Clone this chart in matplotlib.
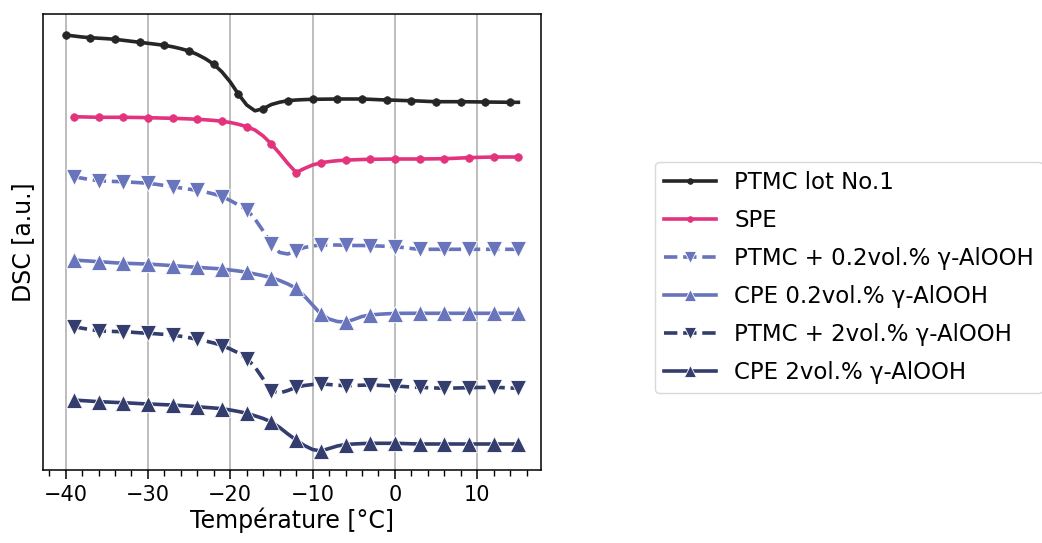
import numpy as np
import matplotlib
matplotlib.use("Agg")
import matplotlib.pyplot as plt
from matplotlib.ticker import MultipleLocator

# Temperature axes (°C)
temp_a = list(range(-40, 16))   # PTMC lot No.1
temp_b = list(range(-39, 16))   # other series

ptmc_lot1 = [4.35, 4.34, 4.33, 4.323, 4.318, 4.313, 4.307, 4.297, 4.287, 4.277,
             4.267, 4.257, 4.247, 4.232, 4.213, 4.19, 4.155, 4.112, 4.057, 3.98,
             3.88, 3.757, 3.65, 3.592, 3.613, 3.655, 3.678, 3.693, 3.70, 3.704,
             3.707, 3.708, 3.709, 3.71, 3.71, 3.71, 3.71, 3.707, 3.703, 3.70,
             3.698, 3.695, 3.693, 3.69, 3.686, 3.683, 3.683, 3.683, 3.683, 3.682,
             3.681, 3.68, 3.679, 3.678, 3.677, 3.677]

spe = [3.533, 3.531, 3.529, 3.527, 3.527, 3.527, 3.527, 3.526, 3.525, 3.523,
       3.521, 3.519, 3.517, 3.514, 3.511, 3.507, 3.502, 3.496, 3.487, 3.475,
       3.457, 3.433, 3.40, 3.34, 3.26, 3.165, 3.065, 2.975, 3.015, 3.05,
       3.072, 3.084, 3.093, 3.098, 3.102, 3.105, 3.107, 3.108, 3.109, 3.11,
       3.11, 3.11, 3.11, 3.111, 3.112, 3.113, 3.116, 3.12, 3.123, 3.126,
       3.128, 3.13, 3.13, 3.13, 3.13]

ptmc_02 = [2.933, 2.918, 2.904, 2.893, 2.888, 2.885, 2.883, 2.878, 2.873, 2.867,
           2.857, 2.845, 2.833, 2.82, 2.808, 2.796, 2.78, 2.76, 2.735, 2.695,
           2.65, 2.605, 2.51, 2.39, 2.26, 2.175, 2.16, 2.195, 2.225, 2.24,
           2.25, 2.25, 2.25, 2.247, 2.245, 2.245, 2.243, 2.24, 2.237, 2.233,
           2.225, 2.215, 2.207, 2.207, 2.207, 2.207, 2.207, 2.207, 2.207, 2.207,
           2.207, 2.207, 2.207, 2.207, 2.207]

cpe_02 = [2.10, 2.094, 2.089, 2.083, 2.078, 2.072, 2.067, 2.065, 2.062, 2.06,
          2.054, 2.049, 2.043, 2.038, 2.032, 2.027, 2.021, 2.016, 2.01, 2.00,
          1.99, 1.977, 1.96, 1.943, 1.923, 1.895, 1.86, 1.817, 1.74, 1.65,
          1.56, 1.51, 1.485, 1.48, 1.505, 1.535, 1.55, 1.557, 1.562, 1.565,
          1.567, 1.567, 1.567, 1.567, 1.567, 1.567, 1.567, 1.567, 1.567, 1.567,
          1.567, 1.567, 1.567, 1.567, 1.567]

ptmc_2 = [1.433, 1.418, 1.404, 1.393, 1.388, 1.385, 1.383, 1.378, 1.372, 1.367,
          1.362, 1.356, 1.35, 1.337, 1.323, 1.307, 1.29, 1.27, 1.245, 1.21,
          1.17, 1.115, 1.03, 0.91, 0.793, 0.77, 0.795, 0.827, 0.845, 0.855,
          0.86, 0.855, 0.848, 0.843, 0.845, 0.848, 0.85, 0.847, 0.843, 0.84,
          0.835, 0.83, 0.827, 0.823, 0.82, 0.817, 0.819, 0.821, 0.823, 0.825,
          0.826, 0.827, 0.824, 0.82, 0.817]

cpe_2 = [0.70, 0.694, 0.689, 0.683, 0.68, 0.676, 0.673, 0.669, 0.664, 0.66,
         0.657, 0.653, 0.65, 0.644, 0.639, 0.633, 0.626, 0.62, 0.613, 0.60,
         0.585, 0.567, 0.542, 0.515, 0.48, 0.425, 0.36, 0.30, 0.245, 0.205,
         0.19, 0.215, 0.24, 0.255, 0.26, 0.264, 0.267, 0.267, 0.267, 0.267,
         0.265, 0.262, 0.26, 0.26, 0.26, 0.26, 0.26, 0.26, 0.26, 0.26,
         0.26, 0.26, 0.26, 0.26, 0.26]

labels = ["PTMC lot No.1", "SPE", "PTMC + 0.2vol.% γ-AlOOH",
          "CPE 0.2vol.% γ-AlOOH", "PTMC + 2vol.% γ-AlOOH", "CPE 2vol.% γ-AlOOH"]

c_black = "#262626"
c_pink = "#e3337c"
c_pale = "#6874bb"
c_navy = "#333d6e"

fig = plt.figure(figsize=(10.42, 5.43), dpi=100)
ax = fig.add_axes([43/1042, 73/543, (541-43)/1042, (470-14)/543])

lw = 2.6
series = [
    (temp_a, ptmc_lot1, c_black, "-", "o", 5.5),
    (temp_b, spe, c_pink, "-", "o", 5.5),
    (temp_b, ptmc_02, c_pale, "--", "v", 11),
    (temp_b, cpe_02, c_pale, "-", "^", 11),
    (temp_b, ptmc_2, c_navy, "--", "v", 11),
    (temp_b, cpe_2, c_navy, "-", "^", 11),
]
for (x, y, c, ls, mk, ms), lab in zip(series, labels):
    ax.plot(x, y, color=c, linestyle=ls, linewidth=lw, marker=mk, markersize=ms,
            markevery=3, markeredgecolor="white" if mk != "o" else c,
            markeredgewidth=0.6 if mk != "o" else 0.5, label=lab)

ax.set_xlim(-42.75, 17.75)
ax.set_ylim(0.0, 4.56)
ax.set_yticks([])
ax.xaxis.set_major_locator(MultipleLocator(10))
ax.xaxis.set_minor_locator(MultipleLocator(2))
ax.tick_params(axis="x", which="major", length=6.5, width=1.1, labelsize=15, pad=4)
ax.tick_params(axis="x", which="minor", length=4, width=1.0)
ax.grid(axis="x", which="major", color="#bdbdbd", linewidth=1.4)
ax.set_axisbelow(True)
for s in ax.spines.values():
    s.set_linewidth(1.1)
ax.set_xlabel("Température [°C]", fontsize=17, labelpad=2)
ax.set_ylabel("DSC [a.u.]", fontsize=17, labelpad=6)

leg = fig.legend(loc="center left", bbox_to_anchor=(655/1042, 1 - 277.5/543),
                 fontsize=16.5, handlelength=2.25, markerscale=0.75, labelspacing=0.66,
                 frameon=True, fancybox=True, framealpha=1, edgecolor="#d9d9d9",
                 borderaxespad=0.0)

fig.savefig("out.png", dpi=100)
